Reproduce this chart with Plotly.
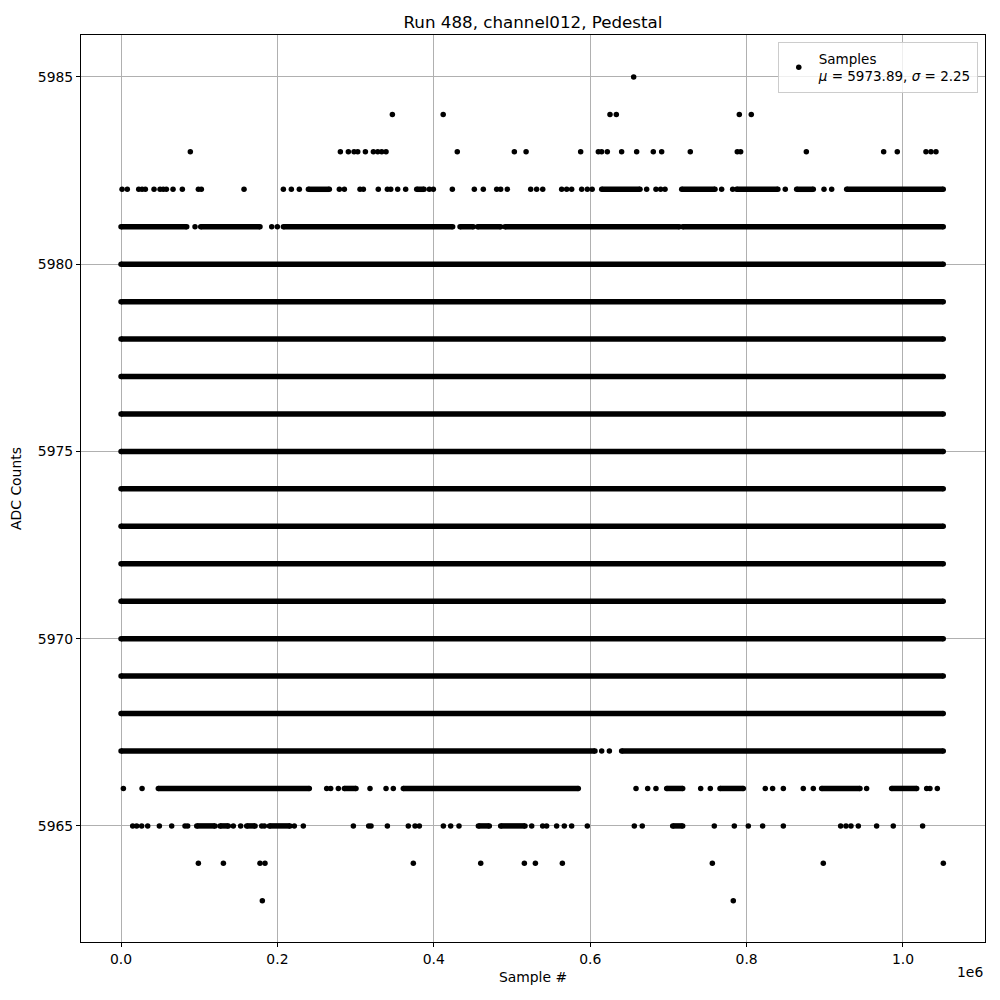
import plotly.graph_objects as go

# x positions in units of 1e6 samples
x_start = 0.0
x_end = 1.0515

# levels that are fully populated across the whole run
dense_levels = [5968, 5969, 5970, 5971, 5972, 5973, 5974, 5975, 5976, 5977, 5978, 5979, 5980]

# partially populated levels: runs of samples (start, end) in 1e6 units
seg_5981 = [(0.0, 0.084), (0.1019, 0.1777), (0.2076, 0.4241), (0.4335, 0.4505),
            (0.4560, 0.4855), (0.491, 0.714), (0.7183, 1.0515)]
seg_5982 = [(0.2396, 0.2664), (0.3781, 0.3875), (0.6147, 0.6637), (0.717, 0.7596),
            (0.7873, 0.840), (0.864, 0.8853), (0.928, 1.0515)]
seg_5967 = [(0.0, 0.6061), (0.6402, 1.0515)]
seg_5966 = [(0.0477, 0.2408), (0.2856, 0.3005), (0.361, 0.5848), (0.6978, 0.7183),
            (0.766, 0.7958), (0.896, 0.945), (0.9855, 1.0175)]
seg_5965 = [(0.0968, 0.1202), (0.1266, 0.1372), (0.1607, 0.1714), (0.1897, 0.2161),
            (0.457, 0.471), (0.4855, 0.5166), (0.7055, 0.7183)]

# isolated samples per level (1e6 units)
pts_5985 = [0.6556]
pts_5984 = [0.347, 0.412, 0.6253, 0.6334, 0.7907, 0.806]
pts_5983 = [0.0886, 0.2805, 0.2907, 0.298, 0.3027, 0.3125, 0.3227, 0.3283, 0.3334, 0.3389,
            0.430, 0.503, 0.518, 0.5878, 0.6104, 0.6146, 0.6219, 0.6402, 0.6594, 0.6807,
            0.6914, 0.728, 0.7881, 0.7924, 0.8764, 0.9753, 0.9927, 1.0294, 1.0358, 1.0422]
pts_5982 = [0.0013, 0.008, 0.0226, 0.0269, 0.0311, 0.0422, 0.0499, 0.054, 0.058, 0.0665,
            0.0784, 0.0989, 0.1027, 0.1573, 0.2076, 0.2178, 0.228, 0.2792, 0.2856, 0.3056,
            0.3099, 0.329, 0.3406, 0.3449, 0.3538, 0.364, 0.3943, 0.3994, 0.4237, 0.4518,
            0.4633, 0.4804, 0.4855, 0.494, 0.5239, 0.5315, 0.5393, 0.5635, 0.5699, 0.5763,
            0.5891, 0.5963, 0.6025, 0.6722, 0.6841, 0.6901, 0.6957, 0.7681, 0.7822, 0.8495,
            0.899, 0.9088]
pts_5981 = [0.0946, 0.1927, 0.1999]
pts_5967 = [0.6147, 0.6245]
pts_5966 = [0.003, 0.0269, 0.263, 0.2681, 0.2779, 0.3184, 0.3389, 0.3482, 0.6586, 0.6735,
            0.6841, 0.7413, 0.7536, 0.8239, 0.8333, 0.847, 0.8725, 0.8853, 0.9535, 1.0303,
            1.0345, 1.0439]
pts_5965 = [0.0149, 0.02, 0.0264, 0.0341, 0.049, 0.0648, 0.0818, 0.0852, 0.1436, 0.1530,
            0.1799, 0.1833, 0.2216, 0.2331, 0.2971, 0.3167, 0.3197, 0.3406, 0.3674, 0.376,
            0.3815, 0.4122, 0.4216, 0.4322, 0.5252, 0.5392, 0.5443, 0.5571, 0.5669, 0.5763,
            0.5963, 0.6564, 0.6666, 0.7587, 0.7843, 0.8022, 0.8205, 0.847, 0.9203, 0.9271,
            0.9335, 0.9429, 0.9663, 0.9876, 1.0251]
pts_5964 = [0.0989, 0.1309, 0.1777, 0.1841, 0.3738, 0.46, 0.5158, 0.5299, 0.5644, 0.7562,
            0.8981, 1.0516]
pts_5963 = [0.1807, 0.783]

mu_val = 5973.89
sigma_val = 2.25

x_ticks = [0.0, 0.2, 0.4, 0.6, 0.8, 1.0]
y_ticks = [5965, 5970, 5975, 5980, 5985]

# ---- build traces ----
seg_x, seg_y = [], []
for lvl in dense_levels:
    seg_x += [x_start, x_end, None]
    seg_y += [lvl, lvl, None]
for lvl, segs in [(5981, seg_5981), (5982, seg_5982), (5967, seg_5967),
                  (5966, seg_5966), (5965, seg_5965)]:
    for a, b in segs:
        seg_x += [a, b, None]
        seg_y += [lvl, lvl, None]

pt_x, pt_y = [], []
for lvl, pts in [(5985, pts_5985), (5984, pts_5984), (5983, pts_5983), (5982, pts_5982),
                 (5981, pts_5981), (5967, pts_5967), (5966, pts_5966), (5965, pts_5965),
                 (5964, pts_5964), (5963, pts_5963)]:
    pt_x += pts
    pt_y += [lvl] * len(pts)

fig = go.Figure()
fig.add_trace(go.Scatter(x=seg_x, y=seg_y, mode="lines+markers",
                         line=dict(color="black", width=5.5),
                         marker=dict(color="black", size=5.5),
                         showlegend=False, hoverinfo="skip"))
fig.add_trace(go.Scatter(x=pt_x, y=pt_y, mode="markers",
                         marker=dict(color="black", size=5.5),
                         name=f"Samples<br><i>μ</i> = {mu_val:.2f}, <i>σ</i> = {sigma_val:.2f}"))

W = 992
H = 992
font = "DejaVu Sans, Liberation Sans, sans-serif"
fig.update_layout(
    width=W, height=H,
    margin=dict(l=73, r=15, t=27, b=58, autoexpand=False),
    paper_bgcolor="white", plot_bgcolor="white",
    font=dict(family=font, size=13.9, color="black"),
    title=dict(text="Run 488, channel012, Pedestal", x=(533 - 8) / W, xanchor="center",
               y=1 - 14 / H, yanchor="middle", font=dict(size=16.7)),
    legend=dict(x=0.992, y=0.992, xanchor="right", yanchor="top",
                bgcolor="rgba(255,255,255,0.8)", bordercolor="#cccccc", borderwidth=1,
                font=dict(size=13.5)),
    showlegend=True,
)
fig.update_xaxes(range=[-0.0512, 1.1049], tickvals=x_ticks, tickformat=".1f",
                 showgrid=True, gridcolor="#b0b0b0", gridwidth=1, zeroline=False,
                 showline=True, linecolor="black", linewidth=1, mirror=True,
                 ticks="outside", ticklen=4, tickcolor="black", automargin=False,
                 tickfont=dict(size=13.9),
                 title=dict(text="Sample #", standoff=6, font=dict(size=13.9)))
fig.update_yaxes(range=[5961.9, 5986.12], tickvals=y_ticks,
                 showgrid=True, gridcolor="#b0b0b0", gridwidth=1, zeroline=False,
                 showline=True, linecolor="black", linewidth=1, mirror=True,
                 ticks="outside", ticklen=4, tickcolor="black", automargin=False,
                 tickfont=dict(size=13.9),
                 title=dict(text="ADC Counts", standoff=12, font=dict(size=13.9)))
fig.add_annotation(text="1e6", xref="paper", yref="paper", x=1.0, y=-0.022,
                   xanchor="right", yanchor="top", showarrow=False,
                   font=dict(size=13.9))

fig.write_html("out.html")
